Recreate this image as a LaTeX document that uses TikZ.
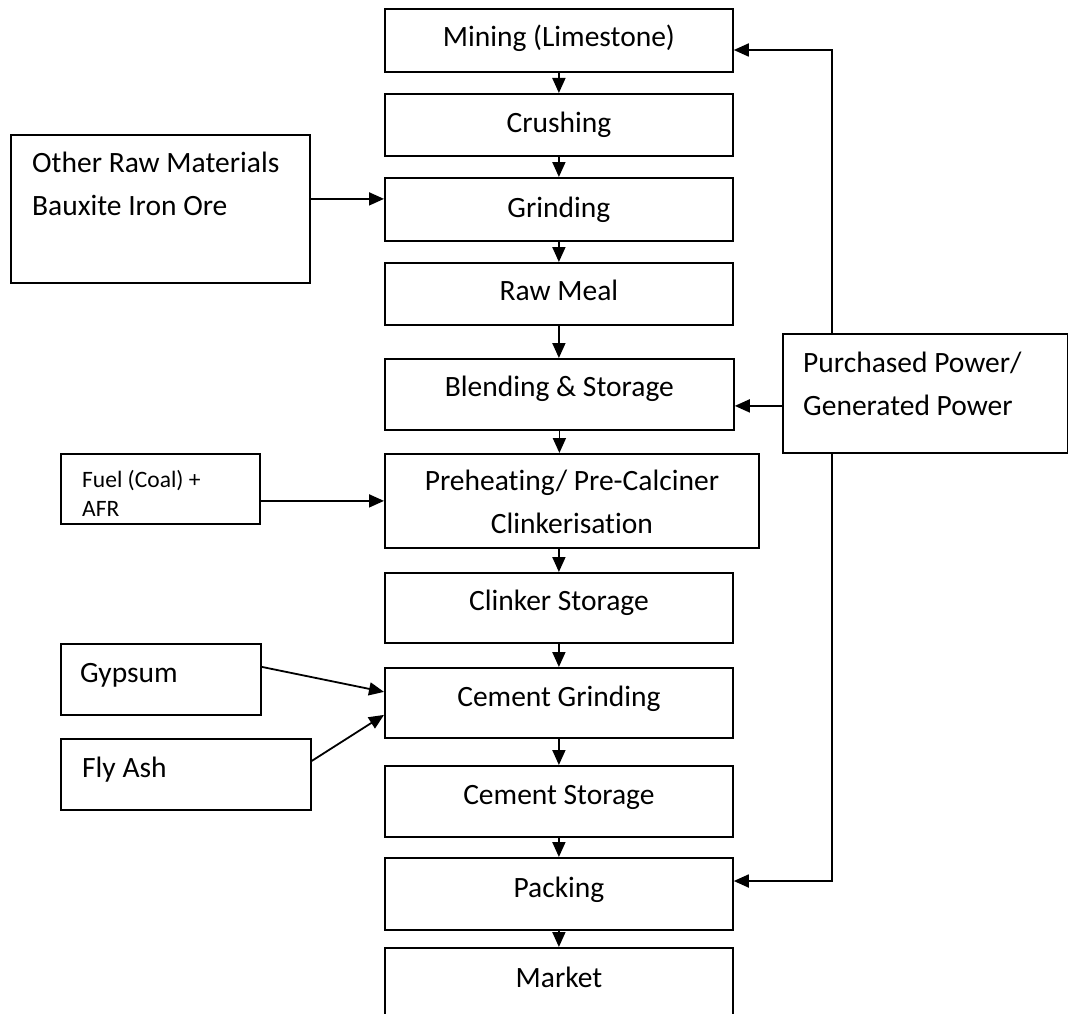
\documentclass[tikz,border=0pt]{standalone}
\usepackage{fontspec}
\setmainfont{Carlito}[Ligatures=NoCommon]
\usetikzlibrary{arrows.meta,calc}
\begin{document}
\begin{tikzpicture}[x=1pt,y=-1pt,
  box/.style={draw,line width=1.8pt,inner sep=0pt,anchor=north west},
  txt/.style={font=\fontsize{29.5}{43}\selectfont,inner sep=0pt},
  smalltxt/.style={font=\fontsize{23.5}{29}\selectfont,inner sep=0pt},
  arr/.style={line width=1.8pt,-{Triangle[length=15pt,width=13pt]}},
  ln/.style={line width=1.8pt}]
\useasboundingbox (0,0) rectangle (1068,1014);
\clip (0,0) rectangle (1068,1014);
% main column
\node[box,minimum width=348pt,minimum height=63pt] (mining) at (384,8) {};
\node[box,minimum width=348pt,minimum height=62pt] (crushing) at (384,93) {};
\node[box,minimum width=348pt,minimum height=63pt] (grinding) at (384,177) {};
\node[box,minimum width=348pt,minimum height=62pt] (rawmeal) at (384,262) {};
\node[box,minimum width=349pt,minimum height=71pt] (blending) at (384,358) {};
\node[box,minimum width=374pt,minimum height=94pt] (preheat) at (384,453) {};
\node[box,minimum width=348pt,minimum height=70pt] (clinker) at (384,572) {};
\node[box,minimum width=348pt,minimum height=70pt] (cgrind) at (384,667) {};
\node[box,minimum width=348pt,minimum height=71pt] (cstore) at (384,765) {};
\node[box,minimum width=348pt,minimum height=72pt] (packing) at (384,857) {};
\node[box,minimum width=348pt,minimum height=90pt] (market) at (384,947) {};
% side boxes
\node[box,minimum width=299pt,minimum height=148pt] (other) at (10,134) {};
\node[box,minimum width=199pt,minimum height=70pt] (fuel) at (60,453) {};
\node[box,minimum width=200pt,minimum height=71pt] (gypsum) at (60,643) {};
\node[box,minimum width=250pt,minimum height=71pt] (flyash) at (60,738) {};
\node[box,minimum width=285pt,minimum height=119pt] (power) at (782,333) {};
% texts
\node[txt,anchor=base] (miningT) at ($(mining.north)+(0,39)$) {Mining (Limestone)};
\node[txt,anchor=base] (crushingT) at ($(crushing.north)+(0,39)$) {Crushing};
\node[txt,anchor=base] (grindingT) at ($(grinding.north)+(0,40)$) {Grinding};
\node[txt,anchor=base] (rawmealT) at ($(rawmeal.north)+(0,38)$) {Raw Meal};
\node[txt,anchor=base] (blendingT) at ($(blending.north)+(0,38)$) {Blending \& Storage};
\node[txt,anchor=base] (preheatT) at ($(preheat.north)+(0,37)$) {\begin{tabular}[t]{@{}c@{}}Preheating/ Pre-Calciner\\Clinkerisation\end{tabular}};
\node[txt,anchor=base] (clinkerT) at ($(clinker.north)+(0,38)$) {Clinker Storage};
\node[txt,anchor=base] (cgrindT) at ($(cgrind.north)+(0,39)$) {Cement Grinding};
\node[txt,anchor=base] (cstoreT) at ($(cstore.north)+(0,39)$) {Cement Storage};
\node[txt,anchor=base] (packingT) at ($(packing.north)+(0,40)$) {Packing};
\node[txt,anchor=base] (marketT) at ($(market.north)+(0,40)$) {Market};
\node[txt,anchor=base west] (otherT) at ($(other.north west)+(22,38)$) {\begin{tabular}[t]{@{}l@{}}Other Raw Materials\\Bauxite Iron Ore\end{tabular}};
\node[smalltxt,anchor=base west] (fuelT) at ($(fuel.north west)+(22,34)$) {\begin{tabular}[t]{@{}l@{}}Fuel (Coal) +\\AFR\end{tabular}};
\node[txt,anchor=base west] (gypsumT) at ($(gypsum.north west)+(20,39)$) {Gypsum};
\node[txt,anchor=base west] (flyashT) at ($(flyash.north west)+(22,39)$) {Fly Ash};
\node[txt,anchor=base west] (powerT) at ($(power.north west)+(21,39)$) {\begin{tabular}[t]{@{}l@{}}Purchased Power/\\Generated Power\end{tabular}};
% main flow
\draw[arr] (mining.south) -- (crushing.north);
\draw[arr] (crushing.south) -- (grinding.north);
\draw[arr] (grinding.south) -- (rawmeal.north);
\draw[arr] (rawmeal.south) -- (rawmeal.south |- blending.north);
\draw[arr] (blending.south) -- (blending.south |- preheat.north);
\draw[arr] (clinker.north |- preheat.south) -- (clinker.north);
\draw[arr] (clinker.south) -- (cgrind.north);
\draw[arr] (cgrind.south) -- (cstore.north);
\draw[arr] (cstore.south) -- (packing.north);
\draw[arr] (packing.south) -- (market.north);
% side inputs
\coordinate (oa) at ($(other.east)+(0,-10)$);
\draw[arr] (oa) -- (oa -| grinding.west);
\draw[arr] (fuel.east |- preheat.west) -- (preheat.west);
\draw[arr] ($(gypsum.east)+(0,-12.5)$) -- ($(cgrind.west)+(0,-11)$);
\draw[arr] ($(flyash.east)+(0,-13.5)$) -- ($(cgrind.west)+(0,12)$);
% power
\coordinate (ptop) at (832,50);
\coordinate (pbot) at (832,881);
\draw[arr] (power.north -| ptop) -- (ptop) -- (ptop -| mining.east);
\draw[arr] (power.south -| pbot) -- (pbot) -- (pbot -| packing.east);
\coordinate (pb) at ($(power.west)+(0,12.5)$);
\draw[arr] (pb) -- (pb -| blending.east);
\end{tikzpicture}
\end{document}
